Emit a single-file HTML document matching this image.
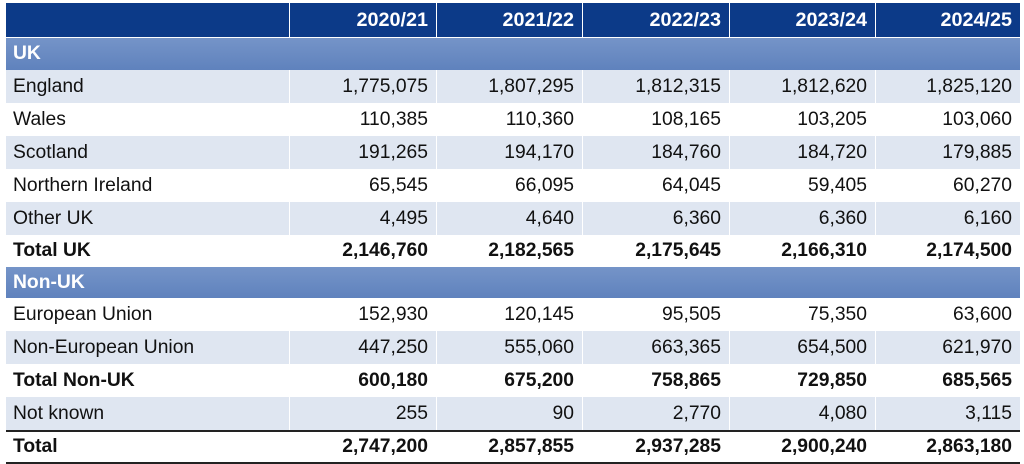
<!DOCTYPE html>
<html><head><meta charset="utf-8"><style>
body{margin:0;width:1024px;height:464px;background:#fff;font-family:"Liberation Sans",Arial,sans-serif;overflow:hidden;position:relative}
.r{position:absolute;left:6px;width:1014px;font-size:19.3px;color:#111}
.c{position:absolute;top:0;bottom:0;display:flex;align-items:center}
.c0{left:7px}
.n{justify-content:flex-end}
.v{position:absolute;top:0;bottom:0;width:1px;background:#fff}
.hd{background:#0c3a88;color:#fff;font-weight:bold;font-size:19.8px}
.sec{background:linear-gradient(#7594c8,#5f82bd);color:#fff;font-weight:bold}
.lt{background:#dfe6f1}
.b{font-weight:bold}
</style></head><body>
<div id="t"></div>
<script>
var rows=[
["hd",3,34,"",["2020/21","2021/22","2022/23","2023/24","2024/25"]],
["sec",38,32,"UK",null],
["lt",70,33,"England",["1,775,075","1,807,295","1,812,315","1,812,620","1,825,120"]],
["",103,33,"Wales",["110,385","110,360","108,165","103,205","103,060"]],
["lt",136,33,"Scotland",["191,265","194,170","184,760","184,720","179,885"]],
["",169,33,"Northern Ireland",["65,545","66,095","64,045","59,405","60,270"]],
["lt",202,33,"Other UK",["4,495","4,640","6,360","6,360","6,160"]],
["b",235,32,"Total UK",["2,146,760","2,182,565","2,175,645","2,166,310","2,174,500"]],
["sec",267,31,"Non-UK",null],
["",298,33,"European Union",["152,930","120,145","95,505","75,350","63,600"]],
["lt",331,33,"Non-European Union",["447,250","555,060","663,365","654,500","621,970"]],
["b",364,33,"Total Non-UK",["600,180","675,200","758,865","729,850","685,565"]],
["lt",397,33,"Not known",["255","90","2,770","4,080","3,115"]],
["b",431,31,"Total",["2,747,200","2,857,855","2,937,285","2,900,240","2,863,180"]]
];
var L=[283,430,576,723,869,1014];
var h="";
rows.forEach(function(r){
 h+='<div class="r '+r[0]+'" style="top:'+r[1]+'px;height:'+r[2]+'px">';
 h+='<div class="c c0">'+r[3]+'</div>';
 if(r[4]){for(var i=0;i<5;i++){h+='<div class="v" style="left:'+L[i]+'px"></div><div class="c n" style="left:'+L[i]+'px;width:'+(L[i+1]-L[i]-8)+'px">'+r[4][i]+'</div>';}}
 h+='</div>';
});
h+='<div style="position:absolute;left:6px;width:1014px;top:430px;height:2px;background:#222"></div>';
h+='<div style="position:absolute;left:6px;width:1014px;top:462px;height:2px;background:#222"></div>';
document.getElementById("t").innerHTML=h;
</script>
</body></html>
